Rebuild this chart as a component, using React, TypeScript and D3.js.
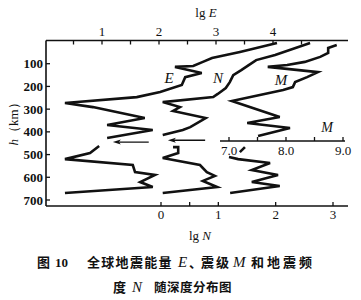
import React from "react";
import * as d3 from "d3";

// ---- data ----
// Energy E: depth (km) and lg E
const eUpperDepth = [9, 48, 75, 92, 110, 114, 141, 159, 194, 225, 247, 273, 291, 339, 370, 392, 427];
const eUpperLgE = [4.07, 3.42, 2.93, 2.77, 2.6, 2.28, 2.75, 2.46, 2.4, 2.02, 1.61, 0.35, 0.84, 1.75, 1.09, 1.89, 1.09];
const eLowerDepth = [462, 493, 520, 546, 577, 590, 621, 643, 669];
const eLowerLgE = [0.95, 0.79, 0.35, 1.54, 1.58, 1.93, 1.67, 1.89, 0.35];

// Frequency N: depth (km) and lg N
const nUpperDepth = [9, 62, 84, 106, 128, 150, 181, 207, 233, 247, 269, 291, 308, 339, 379, 392, 414];
const nUpperLgN = [2.6, 1.99, 1.66, 1.53, 1.4, 1.26, 1.2, 1.13, 0.99, 0.91, 0.03, 0.33, 0.21, 0.78, 0.51, 0.38, 0.03];
const nLowerDepth = [467, 467, 493, 515, 546, 577, 594, 616, 643, 669];
const nLowerLgN = [0.21, 0.3, 0.3, 0.03, 0.68, 0.8, 0.94, 0.73, 0.98, 0.03];

// Magnitude M: depth (km) and M
const mUpperDepth = [18, 31, 53, 70, 92, 106, 114, 137, 159, 181, 203, 216, 264, 335, 361, 383, 418];
const mUpperM = [8.89, 8.74, 8.74, 8.6, 8.33, 8.02, 7.68, 8.56, 8.37, 8.16, 8.12, 7.95, 7.05, 7.89, 7.32, 8.07, 7.51];
const mMidDepth = [489, 467];
const mMidM = [7.19, 7.28];
const mLowerDepth = [511, 520, 537, 568, 590, 621, 638, 669];
const mLowerM = [7.0, 7.16, 7.72, 7.4, 7.86, 7.4, 7.89, 7.02];

// arrows (depth, from, to)
const eArrow = { depth: 445, from: 1.82, to: 1.19 };
const nArrow = { depth: 437, from: 0.77, to: 0.12 };

// ticks
const depthTicks = [100, 200, 300, 400, 500, 600, 700];
const lgETicks = [0.5, 1, 1.5, 2, 2.5, 3, 3.5, 4, 4.5];
const lgELabels = [1, 2, 3, 4];
const lgNTicks = [0, 0.5, 1, 2, 3];
const lgNLabels = [0, 1, 2, 3];
const mTicks = [7, 7.5, 8, 8.5, 9];
const mLabels = ["7.0", "8.0", "9.0"];

const zip = (a: number[], b: number[]): [number, number][] => a.map((v, i) => [v, b[i]]);

export default function App() {
  const y = d3.scaleLinear().domain([0, 700]).range([41, 200]);
  const xE = d3.scaleLinear().domain([0, 5]).range([45, 330]);
  const xN = d3.scaleLinear().domain([0, 3]).range([161, 333]);
  const xM = d3.scaleLinear().domain([7, 9]).range([229, 343]);

  const mk = (xs: d3.ScaleLinear<number, number>) =>
    d3
      .line<[number, number]>()
      .x((d) => xs(d[1]))
      .y((d) => y(d[0]));
  const lE = mk(xE);
  const lN = mk(xN);
  const lM = mk(xM);

  const serif = "'Liberation Serif', 'DejaVu Serif', serif";
  const cjk = "'Noto Sans CJK SC', sans-serif";
  const curve = { fill: "none", stroke: "#111", strokeWidth: 2.6, strokeLinejoin: "miter" as const, strokeLinecap: "butt" as const };

  const topY = 40.5;
  const botY = 206;
  const leftX = 46;
  const rightX = 348;
  const mAxisY = 141;

  const arrow = (x1: number, x2: number, yy: number, key: string) => (
    <g key={key}>
      <line x1={x1} x2={x2 + 4} y1={yy} y2={yy} stroke="#111" strokeWidth={1.4} />
      <path d={`M${x2},${yy} L${x2 + 8},${yy - 2.5} L${x2 + 6},${yy} L${x2 + 8},${yy + 2.5} Z`} fill="#111" />
    </g>
  );

  return (
    <svg
      width={361}
      height={300}
      style={{ position: "absolute", left: 0, top: 0, background: "#fff" }}
      xmlns="http://www.w3.org/2000/svg"
    >
      <rect x={0} y={0} width={361} height={300} fill="#fff" />
      {/* axes */}
      <g stroke="#111" strokeWidth={1.6} fill="none">
        <line x1={leftX} x2={leftX} y1={topY} y2={botY} />
        <line x1={leftX} x2={rightX} y1={topY} y2={topY} />
        <line x1={leftX} x2={rightX} y1={botY} y2={botY} />
        <line x1={220} x2={345} y1={mAxisY} y2={mAxisY} />
      </g>
      <g stroke="#111" strokeWidth={1.3}>
        {depthTicks.map((t) => (
          <line key={"dt" + t} x1={leftX} x2={leftX + 4} y1={y(t)} y2={y(t)} />
        ))}
        {lgETicks.map((t) => (
          <line key={"et" + t} x1={xE(t)} x2={xE(t)} y1={topY} y2={topY + 4} />
        ))}
        {lgNTicks.map((t) => (
          <line key={"nt" + t} x1={xN(t)} x2={xN(t)} y1={botY} y2={botY - 4} />
        ))}
        {mTicks.map((t) => (
          <line key={"mt" + t} x1={xM(t)} x2={xM(t)} y1={mAxisY} y2={mAxisY - 4} />
        ))}
      </g>
      {/* tick labels */}
      <g fontFamily={serif} fontSize={13} fill="#111">
        {depthTicks.map((t) => (
          <text key={"dl" + t} x={43} y={y(t) + 4.5} textAnchor="end" fontWeight="bold">
            {t}
          </text>
        ))}
        {lgELabels.map((t) => (
          <text key={"el" + t} x={xE(t)} y={36} textAnchor="middle">
            {t}
          </text>
        ))}
        {lgNLabels.map((t) => (
          <text key={"nl" + t} x={xN(t)} y={219} textAnchor="middle">
            {t}
          </text>
        ))}
        {mLabels.map((t) => (
          <text key={"ml" + t} x={xM(+t)} y={155} textAnchor="middle">
            {t}
          </text>
        ))}
      </g>
      {/* axis titles */}
      <text x={206} y={17} textAnchor="middle" fontFamily={serif} fontSize={13} fill="#111">
        lg <tspan fontStyle="italic">E</tspan>
      </text>
      <text x={200} y={240} textAnchor="middle" fontFamily={serif} fontSize={13} fill="#111">
        lg <tspan fontStyle="italic">N</tspan>
      </text>
      <text
        transform="translate(18,121) rotate(-90)"
        textAnchor="middle"
        fontFamily={serif}
        fontSize={13}
        fill="#111"
      >
        <tspan fontStyle="italic">h</tspan>（km）
      </text>
      <text x={327} y={132} textAnchor="middle" fontFamily={serif} fontStyle="italic" fontSize={14} fill="#111">
        M
      </text>
      {/* curves */}
      <path d={lE(zip(eUpperDepth, eUpperLgE)) || ""} {...curve} />
      <path d={lE(zip(eLowerDepth, eLowerLgE)) || ""} {...curve} />
      <path d={lN(zip(nUpperDepth, nUpperLgN)) || ""} {...curve} />
      <path d={lN(zip(nLowerDepth, nLowerLgN)) || ""} {...curve} />
      <path d={lM(zip(mUpperDepth, mUpperM)) || ""} {...curve} />
      <path d={lM(zip(mMidDepth, mMidM)) || ""} {...curve} />
      <path d={lM(zip(mLowerDepth, mLowerM)) || ""} {...curve} />
      {arrow(xE(eArrow.from), xE(eArrow.to), y(eArrow.depth), "ea")}
      {arrow(xN(nArrow.from), xN(nArrow.to), y(nArrow.depth), "na")}
      {/* curve labels */}
      <g fontFamily={serif} fontStyle="italic" fontSize={15} fill="#111" textAnchor="middle">
        <text x={169} y={83}>E</text>
        <text x={218} y={83}>N</text>
        <text x={281} y={85}>M</text>
      </g>
      {/* caption */}
      <g fontFamily={cjk} fontWeight="bold" fontSize={13} fill="#111">
        <text x={37} y={267}>
          图
        </text>
        <text x={55} y={267} fontFamily={serif} fontSize={13}>
          10
        </text>
        <text x={87} y={267} letterSpacing={1.3}>
          全球地震能量
        </text>
        <text x={178} y={267} fontFamily={serif} fontStyle="italic" fontSize={15} fontWeight="normal">
          E
        </text>
        <text x={189} y={267}>、</text>
        <text x={201} y={267} letterSpacing={2}>
          震级
        </text>
        <text x={233} y={267} fontFamily={serif} fontStyle="italic" fontSize={15} fontWeight="normal">
          M
        </text>
        <text x={251} y={267} letterSpacing={3}>
          和地震频
        </text>
        <text x={113} y={292}>
          度
        </text>
        <text x={132} y={292} fontFamily={serif} fontStyle="italic" fontSize={15} fontWeight="normal">
          N
        </text>
        <text x={154} y={292} fontSize={12.5} letterSpacing={0.5}>
          随深度分布图
        </text>
      </g>
    </svg>
  );
}
